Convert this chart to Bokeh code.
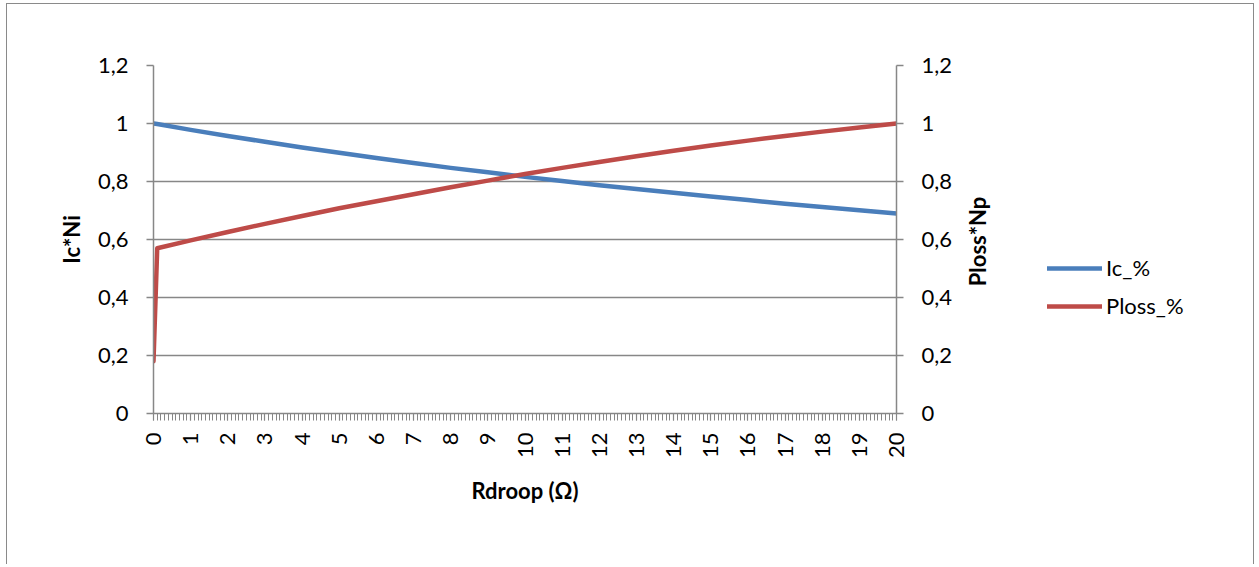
import math
from bokeh.plotting import figure
from bokeh.layouts import row
from bokeh.models import LinearAxis, Legend, LegendItem, FixedTicker, Range1d, Label
from bokeh.embed import file_html
from bokeh.resources import INLINE

# ---- data ----
r_droop = [0, 0.1, 1, 2, 3, 4, 5, 6, 7, 8, 9, 10, 11, 12, 13, 14, 15, 16, 17, 18, 19, 20]
ic_pct = [1.000, 0.998, 0.978, 0.957, 0.937, 0.917, 0.899, 0.881, 0.864, 0.847, 0.832,
          0.816, 0.802, 0.787, 0.774, 0.761, 0.748, 0.736, 0.723, 0.712, 0.701, 0.690]
ploss_pct = [0.18, 0.570, 0.597, 0.626, 0.654, 0.681, 0.708, 0.732, 0.756, 0.780, 0.803,
             0.826, 0.847, 0.867, 0.887, 0.906, 0.924, 0.941, 0.957, 0.972, 0.986, 1.000]

y_ticks = [0, 0.2, 0.4, 0.6, 0.8, 1.0, 1.2]
y_tick_labels = ["0", "0,2", "0,4", "0,6", "0,8", "1", "1,2"]
x_ticks = list(range(0, 21))
x_minor = [i / 10 for i in range(0, 201)]

series_names = ["Ic_%", "Ploss_%"]
x_title = "Rdroop (\u03a9)"
y_title = "Ic*Ni"
y2_title = "Ploss*Np"

BLUE = "#4A7EBB"
RED = "#BE4B48"
GRAY = "#878787"
FONT = "Lato"
FS = "22px"
H = 560
W_MAIN = 953

p = figure(width=W_MAIN, height=H, output_backend="svg", toolbar_location=None,
           x_range=Range1d(0, 20), y_range=Range1d(0, 1.2),
           min_border_left=146, min_border_right=W_MAIN - 146 - 743, min_border_top=61,
           min_border_bottom=151, x_axis_location=None, y_axis_location=None)
p.outline_line_color = None
p.background_fill_color = "white"
p.border_fill_color = "white"

yticker = FixedTicker(ticks=y_ticks)
overrides = {t: l for t, l in zip(y_ticks, y_tick_labels)}


def style_y(ax):
    ax.ticker = yticker
    ax.major_label_overrides = overrides
    ax.axis_line_color = GRAY
    ax.axis_line_width = 1.5
    ax.major_tick_line_color = GRAY
    ax.major_tick_line_width = 1.5
    ax.major_tick_out = 7
    ax.major_tick_in = 0
    ax.minor_tick_out = 0
    ax.minor_tick_in = 0
    ax.major_label_standoff = 18
    ax.major_label_text_font = FONT
    ax.major_label_text_font_size = FS
    ax.major_label_text_color = "black"
    ax.axis_label_text_font = FONT
    ax.axis_label_text_font_size = FS
    ax.axis_label_text_font_style = "bold"
    ax.axis_label_text_color = "black"


yl = LinearAxis(axis_label=y_title, axis_label_standoff=10)
style_y(yl)
p.add_layout(yl, "left")
yr = LinearAxis()
style_y(yr)
p.add_layout(yr, "right")

xa = LinearAxis(ticker=FixedTicker(ticks=x_ticks, minor_ticks=x_minor))
xa.axis_line_color = GRAY
xa.axis_line_width = 1.5
xa.major_tick_line_color = GRAY
xa.major_tick_line_width = 1.2
xa.minor_tick_line_color = GRAY
xa.minor_tick_line_width = 1.0
xa.major_tick_out = 7
xa.major_tick_in = 0
xa.minor_tick_out = 7
xa.minor_tick_in = 0
xa.major_label_orientation = math.pi / 2
xa.major_label_standoff = 12
xa.major_label_text_font = FONT
xa.major_label_text_font_size = FS
xa.major_label_text_color = "black"
xa.axis_label = x_title
xa.axis_label_standoff = 16
xa.axis_label_text_font = FONT
xa.axis_label_text_font_size = FS
xa.axis_label_text_font_style = "bold"
xa.axis_label_text_color = "black"
p.add_layout(xa, "below")

p.xgrid.visible = False
p.ygrid.ticker = yticker
p.ygrid.grid_line_color = GRAY
p.ygrid.grid_line_width = 1.5

p.line(r_droop, ic_pct, line_color=BLUE, line_width=4.5, line_cap="round", line_join="round")
p.line(r_droop, ploss_pct, line_color=RED, line_width=4.5, line_cap="round", line_join="round")

# side panel: right axis title + legend (legend lines drawn on an off-view range)
W_SIDE = 1246 - W_MAIN
lg = figure(width=W_SIDE, height=H, output_backend="svg", toolbar_location=None,
            x_range=Range1d(0, W_SIDE), y_range=Range1d(0, 348),
            min_border_left=0, min_border_right=0, min_border_top=61, min_border_bottom=151,
            x_axis_location=None, y_axis_location=None)
lg.extra_x_ranges = {"off": Range1d(100, 101)}
lg.outline_line_color = None
lg.grid.visible = False
lg.border_fill_color = "white"
l1 = lg.line(r_droop, ic_pct, line_color=BLUE, line_width=4.5, line_cap="round", x_range_name="off")
l2 = lg.line(r_droop, ploss_pct, line_color=RED, line_width=4.5, line_cap="round", x_range_name="off")
legend = Legend(items=[LegendItem(label=series_names[0], renderers=[l1]),
                       LegendItem(label=series_names[1], renderers=[l2])],
                location=(1048 - (8 + W_MAIN), 94), orientation="vertical",
                glyph_width=55, glyph_height=20, label_height=20, spacing=11,
                label_standoff=4, padding=0, margin=0,
                border_line_color=None, background_fill_alpha=0,
                label_text_font=FONT, label_text_font_size=FS, label_text_color="black")
lg.add_layout(legend, "center")
lg.add_layout(Label(x=978 - (8 + W_MAIN), y=172, text=y2_title, angle=math.pi / 2,
                    text_align="center", text_baseline="middle", text_font=FONT,
                    text_font_size=FS, text_font_style="bold", text_color="black"))

layout = row(p, lg, spacing=0,
             styles={"margin-left": "6px", "margin-top": "3px",
                     "border-left": "1px solid #8a8a8a", "border-top": "1px solid #8a8a8a",
                     "border-right": "1px solid #8a8a8a"})

open("out.html", "w").write(file_html(layout, INLINE))
